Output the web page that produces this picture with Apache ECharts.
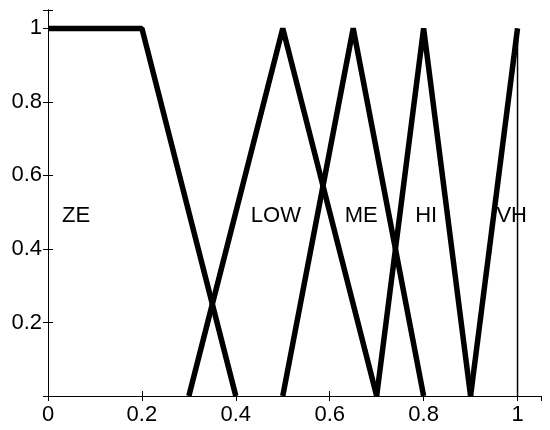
<!DOCTYPE html>
<html><head><meta charset="utf-8">
<script src="https://cdn.jsdelivr.net/npm/echarts@6/dist/echarts.min.js"></script>
<style>html,body{margin:0;padding:0;background:#fff}#c{width:550px;height:430px}</style>
</head><body><div id="c"></div>
<script>
var zeX = [0, 0.2, 0.4];       var zeY = [1, 1, 0];
var lowX = [0.3, 0.5, 0.7];    var lowY = [0, 1, 0];
var meX = [0.5, 0.65, 0.8];    var meY = [0, 1, 0];
var hiX = [0.7, 0.8, 0.9];     var hiY = [0, 1, 0];
var vhX = [0.9, 1];            var vhY = [0, 1];
var vlineX = [1, 1];           var vlineY = [0, 1];
var labelNames = ['ZE', 'LOW', 'ME', 'HI', 'VH'];
var labelX = [0.03, 0.432, 0.632, 0.782, 0.955];
var labelY = [0.49, 0.49, 0.49, 0.49, 0.49];
var xTicks = [0, 0.2, 0.4, 0.6, 0.8, 1];
var yTicks = [0.2, 0.4, 0.6, 0.8, 1];

function pts(xs, ys){ return xs.map(function(x,i){return [x, ys[i]];}); }
function fmtX(v){ for (var i=0;i<xTicks.length;i++){ if (Math.abs(v-xTicks[i])<1e-9) return String(xTicks[i]); } return ''; }
function fmtY(v){ for (var i=0;i<yTicks.length;i++){ if (Math.abs(v-yTicks[i])<1e-9) return String(yTicks[i]); } return ''; }

var font = 'Liberation Sans, Arial, sans-serif';
var thick = {color:'#000', width:5.5, join:'bevel', cap:'butt'};
function mf(name, xs, ys, ls){
  return {type:'line', name:name, data:pts(xs, ys), symbol:'none', lineStyle:ls||thick, animation:false, z:3};
}
var chart = echarts.init(document.getElementById('c'), null, {renderer:'canvas'});
chart.setOption({
  animation:false,
  backgroundColor:'#fff',
  grid:{left:48, right:9, top:10, bottom:34, show:false},
  xAxis:[
    {type:'value', min:0, max:1.05, interval:0.2, position:'bottom',
     axisLine:{lineStyle:{color:'#000', width:1}},
     axisTick:{inside:true, length:5, lineStyle:{color:'#000'}},
     axisLabel:{formatter:fmtX, color:'#000', fontSize:22, fontFamily:font, margin:8, showMaxLabel:false},
     splitLine:{show:false}},
    {type:'value', min:0, max:1.05, interval:0.2, position:'top',
     axisLine:{lineStyle:{color:'#000', width:1}},
     axisTick:{inside:true, length:5, lineStyle:{color:'#000'}},
     axisLabel:{show:false}, splitLine:{show:false}}
  ],
  yAxis:[
    {type:'value', min:0, max:1.05, interval:0.2, position:'left',
     axisLine:{show:true, lineStyle:{color:'#000', width:1}},
     axisTick:{show:true, inside:true, length:5, lineStyle:{color:'#000'}},
     axisLabel:{formatter:fmtY, color:'#000', fontSize:22, fontFamily:font, margin:6},
     splitLine:{show:false}},
    {type:'value', min:0, max:1.05, interval:0.2, position:'right',
     axisLine:{show:true, lineStyle:{color:'#000', width:1}},
     axisTick:{show:true, inside:true, length:5, lineStyle:{color:'#000'}},
     axisLabel:{show:false}, splitLine:{show:false}}
  ],
  series:[
    mf('ZE', zeX, zeY),
    mf('LOW', lowX, lowY),
    mf('ME', meX, meY),
    mf('HI', hiX, hiY),
    mf('VH', vhX, vhY),
    mf('VHedge', vlineX, vlineY, {color:'#000', width:1.5}),
    {type:'scatter', symbolSize:0, animation:false, z:5, itemStyle:{opacity:1},
     data: labelNames.map(function(n,i){return {name:n, value:[labelX[i], labelY[i]]};}),
     label:{show:true, position:'inside', align:'left', verticalAlign:'middle', opacity:1,
            formatter:function(p){return p.name;}, color:'#000', fontSize:22, fontFamily:font}}
  ]
});
</script></body></html>
